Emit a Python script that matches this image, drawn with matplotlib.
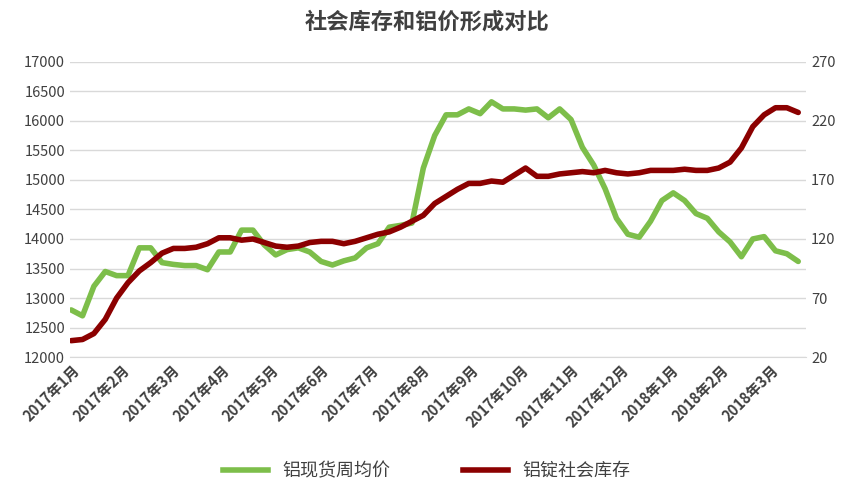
import numpy as np
import matplotlib
matplotlib.use("Agg")
import matplotlib.pyplot as plt
from matplotlib.lines import Line2D

plt.rcParams['font.family'] = ['Noto Sans CJK SC', 'DejaVu Sans']

months = ["2017年1月", "2017年2月", "2017年3月", "2017年4月", "2017年5月", "2017年6月",
          "2017年7月", "2017年8月", "2017年9月", "2017年10月", "2017年11月", "2017年12月",
          "2018年1月", "2018年2月", "2018年3月"]

price = [12800, 12700, 13200, 13450, 13380, 13380, 13850, 13850, 13600, 13570, 13550, 13550,
         13480, 13780, 13780, 14150, 14150, 13900, 13730, 13820, 13850, 13780, 13620, 13560,
         13630, 13680, 13850, 13920, 14200, 14230, 14270, 15200, 15750, 16100, 16100, 16200,
         16120, 16320, 16200, 16200, 16180, 16200, 16050, 16200, 16020, 15550, 15250, 14850,
         14350, 14080, 14030, 14300, 14650, 14780, 14650, 14430, 14350, 14120, 13950, 13700,
         14000, 14040, 13800, 13750, 13620]

stock = [34, 35, 40, 52, 70, 83, 93, 100, 108, 112, 112, 113, 116, 121, 121, 119, 120, 117,
         114, 113, 114, 117, 118, 118, 116, 118, 121, 124, 126, 130, 135, 140, 150, 156, 162,
         167, 167, 169, 168, 174, 180, 173, 173, 175, 176, 177, 176, 178, 176, 175, 176, 178,
         178, 178, 179, 178, 178, 180, 185, 197, 215, 225, 231, 231, 227]

weeks_per_month = 4.4
x = np.arange(len(price))

fig = plt.figure(figsize=(8.54, 5.01), dpi=100)
ax1 = fig.add_axes([0.082, 0.287, 0.862, 0.59])
ax2 = ax1.twinx()

ax1.plot(x, price, color="#7DBE4A", lw=4, solid_capstyle="round")
ax2.plot(x, stock, color="#8B0000", lw=4, solid_capstyle="round")

ax1.set_ylim(12000, 17000)
ax1.set_yticks(np.arange(12000, 17001, 500))
ax2.set_ylim(20, 270)
ax2.set_yticks(np.arange(20, 271, 50))
ax1.set_xlim(-0.1, len(price) - 0.3)
ax1.grid(axis="y", color="#D9D9D9", lw=1)
ax1.set_axisbelow(True)

ticks = np.arange(len(months)) * weeks_per_month
ax1.set_xticks(ticks)
ax1.set_xticklabels(months, rotation=45, ha="right", rotation_mode="anchor",
                    fontsize=10, fontweight="bold", color="#404040")
for ax in (ax1, ax2):
    for s in ax.spines.values():
        s.set_visible(False)
    ax.tick_params(length=0, labelsize=10.5, colors="#404040")
ax1.spines["bottom"].set_visible(True)
ax1.spines["bottom"].set_color("#D9D9D9")

fig.text(0.5, 0.955, "社会库存和铝价形成对比", ha="center", va="center",
         fontsize=16, fontweight="bold", color="#404040")

handles = [Line2D([], [], color="#7DBE4A", lw=4), Line2D([], [], color="#8B0000", lw=4)]
fig.legend(handles, ["铝现货周均价", "铝锭社会库存"], loc="center", bbox_to_anchor=(0.5, 0.06),
           ncol=2, frameon=False, fontsize=13, handlelength=2.5, columnspacing=4,
           labelcolor="#404040")

fig.savefig("out.png", dpi=100)
